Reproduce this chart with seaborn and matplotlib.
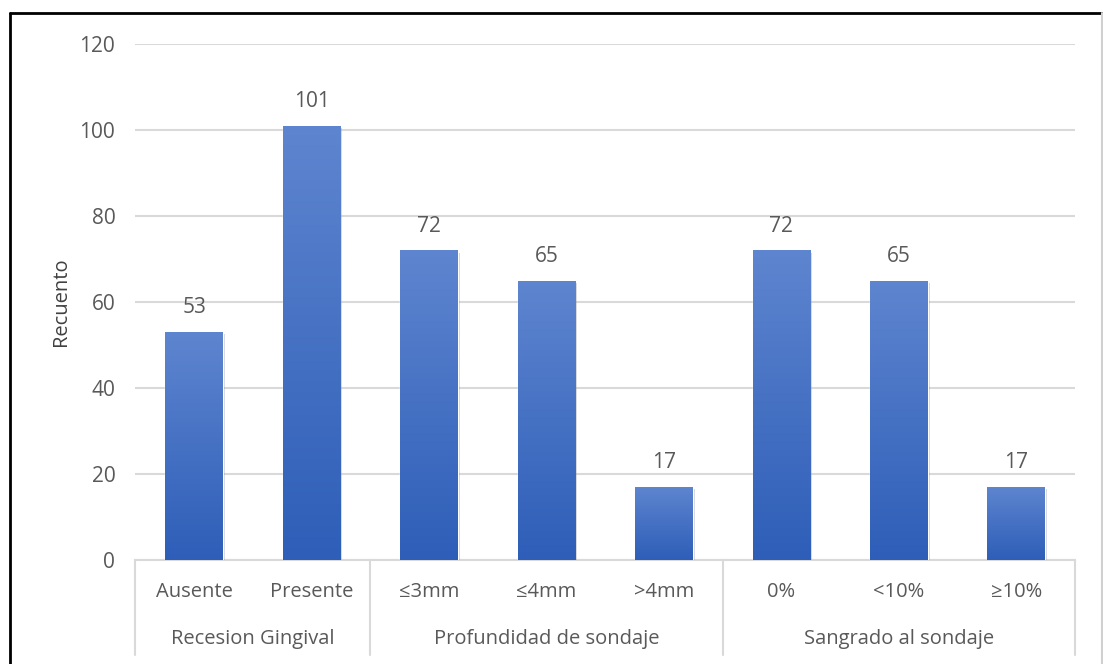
import numpy as np
import pandas as pd
import matplotlib
matplotlib.use("Agg")
import matplotlib.pyplot as plt
import matplotlib.patheffects as pe
from matplotlib.colors import LinearSegmentedColormap
from matplotlib.lines import Line2D
import seaborn as sns

# Data
categories = ["Ausente", "Presente", "≤3mm", "≤4mm", ">4mm", "0%", "<10%", "≥10%"]
counts = [53, 101, 72, 65, 17, 72, 65, 17]
groups = ["Recesion Gingival", "Profundidad de sondaje", "Sangrado al sondaje"]
group_sizes = [2, 3, 3]

sns.set_theme(style="white")
plt.rcParams["font.family"] = ["Open Sans", "DejaVu Sans"]

TEXT = "#595959"
GRID = "#D9D9D9"

fig = plt.figure(figsize=(11.03, 6.64), dpi=100)
ax = fig.add_axes([0.1228, 0.1566, 0.9746 - 0.1228, 0.9337 - 0.1566])

df = pd.DataFrame({"cat": categories, "n": counts})
sns.barplot(data=df, x="cat", y="n", order=categories, color="#4472C4",
            width=0.49, saturation=1, ax=ax, zorder=3)

ax.set_ylim(0, 120)
ax.set_xlim(-0.5, len(categories) - 0.5)
ax.set_yticks(np.arange(0, 121, 20))
ax.yaxis.grid(True, color=GRID, linewidth=1.5, zorder=0)
ax.set_axisbelow(True)
for s in ["top", "right", "left"]:
    ax.spines[s].set_visible(False)
ax.spines["bottom"].set_color(GRID)
ax.spines["bottom"].set_linewidth(1.5)

ax.tick_params(axis="y", length=0, pad=14.5, labelsize=15, labelcolor=TEXT)
ax.tick_params(axis="x", length=0, pad=16, labelsize=14.5, labelcolor=TEXT)
ax.set_xlabel("")
ax.set_ylabel("Recuento", fontsize=14.5, color="#404040", labelpad=6)

# Vertical gradient fill for every bar
cmap = LinearSegmentedColormap.from_list("bar", ["#2E5EB8", "#5E85CF"])
grad = np.linspace(0, 1, 256).reshape(-1, 1)
for patch in ax.patches:
    x0, y0 = patch.get_x(), patch.get_y()
    w, h = patch.get_width(), patch.get_height()
    patch.set_path_effects([pe.SimplePatchShadow(offset=(1.5, -1.5), alpha=0.18,
                                                 shadow_rgbFace="#000000"),
                            pe.Normal()])
    im = ax.imshow(grad, cmap=cmap, origin="lower", aspect="auto",
                   extent=(x0, x0 + w, y0, y0 + h), zorder=4)
    im.set_clip_path(patch)
ax.set_xlim(-0.5, len(categories) - 0.5)
ax.set_ylim(0, 120)

# Value labels
ax.bar_label(ax.containers[0], labels=[str(v) for v in counts], padding=10,
             fontsize=15, color=TEXT)

# Group separators and group labels below the axis
trans = ax.get_xaxis_transform()
ax_h_px = (0.9337 - 0.1566) * 664
sep_bottom = -95 / ax_h_px
edges = np.concatenate([[0], np.cumsum(group_sizes)]) - 0.5
for e in edges:
    ax.add_line(Line2D([e, e], [0, sep_bottom], transform=trans, color=GRID,
                       linewidth=1.5, clip_on=False))
for i, g in enumerate(groups):
    mid = (edges[i] + edges[i + 1]) / 2
    ax.text(mid, -79 / ax_h_px, g, transform=trans, ha="center", va="center",
            fontsize=14.5, color=TEXT)

# Outer frame
fig.add_artist(Line2D([9.5 / 1103, 9.5 / 1103], [0, 1 - 12.5 / 664],
                      transform=fig.transFigure, color="black", linewidth=2))
fig.add_artist(Line2D([9.5 / 1103, 1101.5 / 1103], [1 - 12.5 / 664, 1 - 12.5 / 664],
                      transform=fig.transFigure, color="black", linewidth=2))
fig.add_artist(Line2D([1101.5 / 1103, 1101.5 / 1103], [0, 1 - 12.5 / 664],
                      transform=fig.transFigure, color="#D0D0D0", linewidth=1.5))

fig.savefig("out.png", dpi=100)
